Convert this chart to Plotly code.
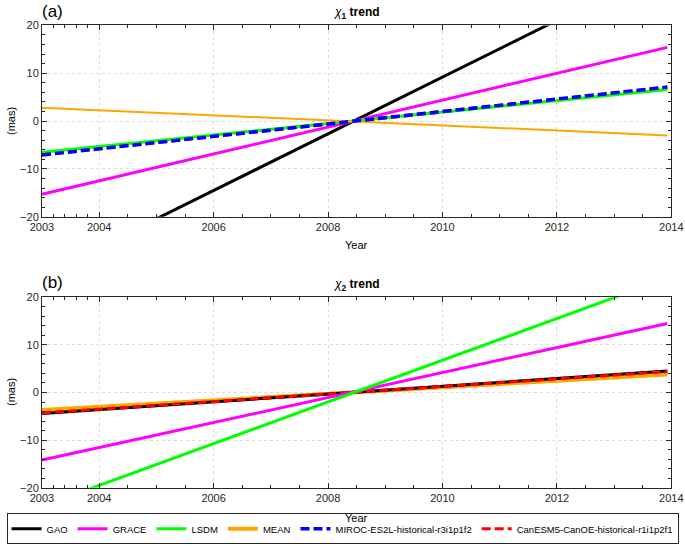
import plotly.graph_objects as go

# ---- data (trend line endpoints) ----
t_span = [2003.0, 2013.93]
series = ["GAO", "GRACE", "LSDM", "MEAN",
          "MIROC-ES2L-historical-r3i1p1f2", "CanESM5-CanOE-historical-r1i1p2f1"]
# panel (a): chi1 trend values at start/end of span (mas)
a_GAO = [-32.3, 32.5]
a_GRACE = [-15.3, 15.4]
a_LSDM = [-6.5, 6.6]
a_MEAN = [2.8, -3.0]
a_MIROC = [-7.1, 7.1]
a_CanESM5 = [-7.0, 7.0]
# panel (b): chi2 trend values
b_GAO = [-4.4, 4.5]
b_GRACE = [-14.2, 14.5]
b_LSDM = [-23.9, 24.0]
b_MEAN = [-3.7, 3.8]
b_MIROC = [-4.0, 4.1]
b_CanESM5 = [-4.3, 4.4]

x_ticks = [2003, 2004, 2006, 2008, 2010, 2012, 2014]
x_minor = [2003.2, 2003.4, 2003.6, 2003.8, 2004.5, 2005, 2005.5, 2006.5, 2007, 2007.5,
           2008.5, 2009, 2009.5, 2010.5, 2011, 2011.5, 2012.5, 2013, 2013.5]
y_ticks = [-20, -10, 0, 10, 20]

colors = {"GAO": "#000000", "GRACE": "#ff00ff", "LSDM": "#00ff00", "MEAN": "#ffa500",
          series[4]: "#0000ff", series[5]: "#ff0000"}
DASH = "9px,4px"

fig = go.Figure()

def add(name, vals, xa, ya, width, dash="solid", show=False, rank=0):
    fig.add_trace(go.Scatter(
        x=t_span, y=vals, mode="lines", name=name, legendgroup=name,
        showlegend=show, legendrank=rank, xaxis=xa, yaxis=ya,
        line=dict(color=colors[name], width=width, dash=dash)))

# panel a (draw order chosen so hidden series stay underneath)
add(series[5], a_CanESM5, "x", "y", 3.5, DASH)
add("GAO", a_GAO, "x", "y", 3)
add("GRACE", a_GRACE, "x", "y", 3)
add("LSDM", a_LSDM, "x", "y", 3)
add("MEAN", a_MEAN, "x", "y", 2)
add(series[4], a_MIROC, "x", "y", 3.5, DASH)

# panel b
add(series[4], b_MIROC, "x2", "y2", 3.5, DASH, True, 5)
add("MEAN", b_MEAN, "x2", "y2", 4, "solid", True, 4)
add("GAO", b_GAO, "x2", "y2", 3, "solid", True, 1)
add(series[5], b_CanESM5, "x2", "y2", 3, DASH, True, 6)
add("GRACE", b_GRACE, "x2", "y2", 3, "solid", True, 2)
add("LSDM", b_LSDM, "x2", "y2", 3, "solid", True, 3)

FAM = "Liberation Sans, Arial, sans-serif"
font = dict(family=FAM, size=11, color="#262626")

def xax(anchor):
    return dict(range=[2003, 2014], tickvals=x_ticks, ticktext=[str(v) for v in x_ticks],
                ticks="inside", ticklen=5, tickcolor="#262626", showline=True,
                linecolor="#262626", linewidth=1, mirror="allticks",
                showgrid=True, gridcolor="#dcdcdc", griddash="dot", gridwidth=1,
                zeroline=False, anchor=anchor, domain=[0.0613, 0.98],
                tickfont=font,
                minor=dict(tickvals=x_minor, ticks="inside", ticklen=3,
                           tickcolor="#262626", showgrid=False))

def yax(anchor, domain):
    return dict(range=[-20, 20], tickvals=y_ticks, ticks="inside", ticklen=5,
                tickcolor="#262626", showline=True, linecolor="#262626", linewidth=1,
                mirror="allticks", showgrid=True, gridcolor="#dcdcdc", griddash="dot",
                zeroline=False, anchor=anchor, domain=domain, tickfont=font,
                minor=dict(dtick=2, tick0=0, ticks="inside", ticklen=3,
                           tickcolor="#262626", showgrid=False))

fig.update_layout(
    width=685, height=546, margin=dict(l=0, r=0, t=0, b=0, autoexpand=False),
    plot_bgcolor="white", paper_bgcolor="white", font=font,
    xaxis=xax("y"), yaxis=yax("x", [0.6031, 0.9535]),
    xaxis2=xax("y2"), yaxis2=yax("x2", [0.1068, 0.4555]),
    legend=dict(orientation="h", x=0.5, xanchor="center", y=0.003, yanchor="bottom",
                bordercolor="#262626", borderwidth=1, bgcolor="white",
                font=dict(family=FAM, size=9.5, color="#000"),
                itemwidth=30, tracegroupgap=0),
    showlegend=True,
)

ann = []
def A(text, x, y, size=11, angle=0):
    ann.append(dict(text=text, x=x / 685, y=1 - y / 546, xref="paper", yref="paper",
                    xanchor="center", yanchor="middle",
                    showarrow=False, textangle=angle,
                    font=dict(family=FAM, size=size, color="#000")))

A("<i>χ</i><sub><b>1</b></sub> <b>trend</b>", 357, 13, size=12)
A("<i>χ</i><sub><b>2</b></sub> <b>trend</b>", 357, 285, size=12)
A("(a)", 52, 11, size=17)
A("(b)", 52, 282, size=17)
A("Year", 356, 245)
A("Year", 356, 518)
A("(mas)", 11, 121, angle=-90)
A("(mas)", 11, 392, angle=-90)
fig.update_layout(annotations=ann)

fig.write_html("out.html")
